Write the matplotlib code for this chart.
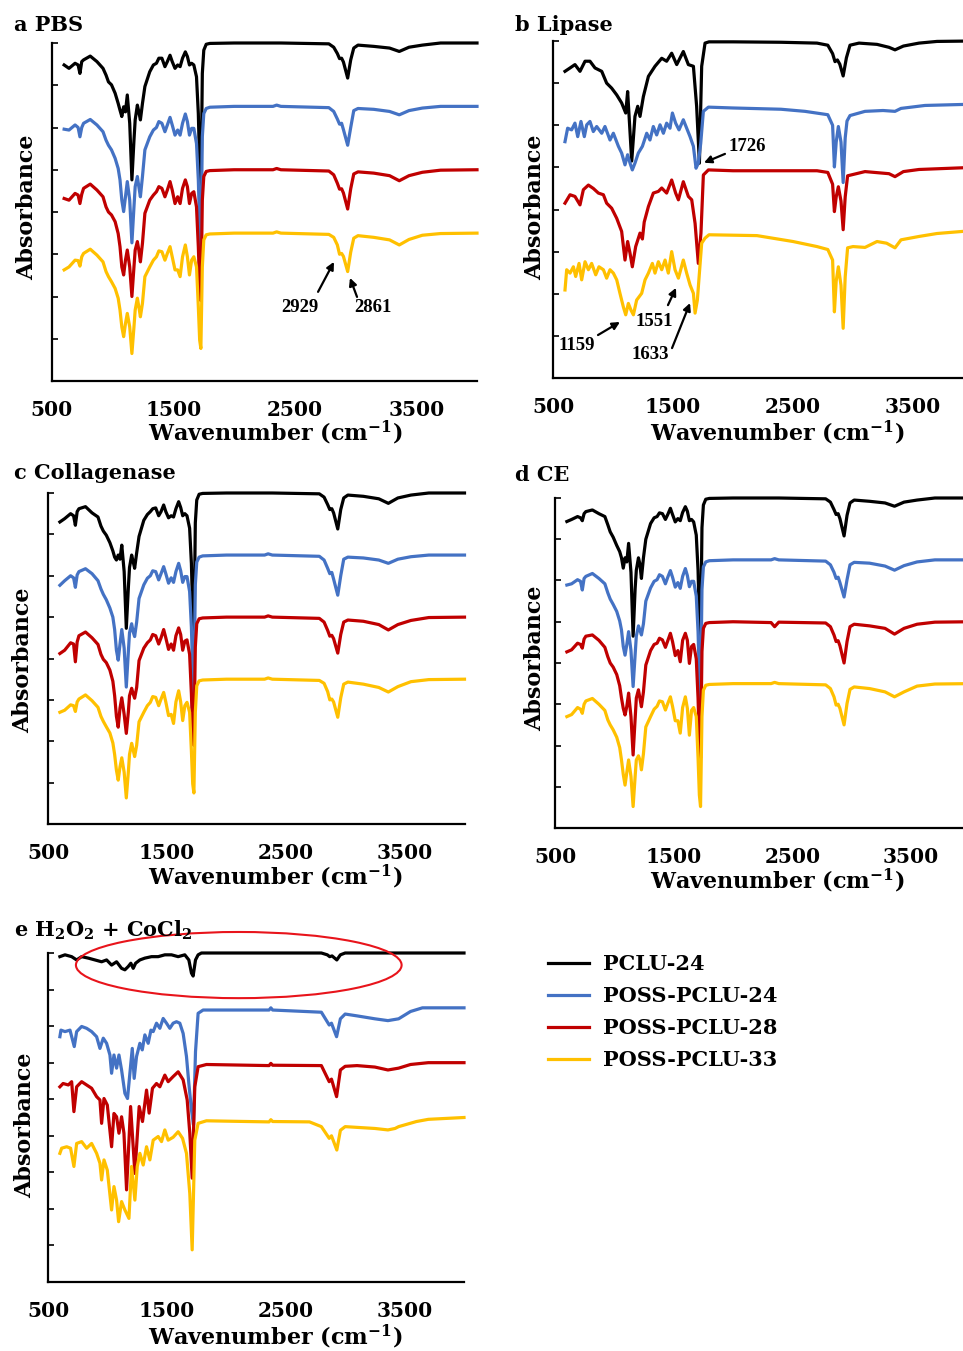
import matplotlib
matplotlib.use('Agg')
import matplotlib.pyplot as plt
from matplotlib.patches import Ellipse
import numpy as np

plt.rcParams['font.family'] = ['DejaVu Serif']
plt.rcParams['font.weight'] = 'bold'
plt.rcParams['mathtext.fontset'] = 'dejavuserif'

# ---------------- data ----------------
SERIES = ['PCLU-24', 'POSS-PCLU-24', 'POSS-PCLU-28', 'POSS-PCLU-33']
COLORS = ['#000000', '#4472C4', '#C00000', '#FFC000']
XTICKS = [500, 1500, 2500, 3500]
PANEL_TITLES = ['a PBS', 'b Lipase', 'c Collagenase', 'd CE',
                r'e H$_{\mathbf{2}}$O$_{\mathbf{2}}$ + CoCl$_{\mathbf{2}}$']

# wavenumber grid shared by panels a, c, d (cm-1)
WN_ACD = [600, 640, 690, 715, 730, 745, 760,
          815, 870, 920, 945, 965, 990,
          1020, 1045, 1060, 1075, 1090, 1105, 1120, 1140,
          1158, 1175, 1185, 1203, 1215, 1228, 1245, 1265,
          1305, 1335, 1360, 1380, 1405, 1430, 1450, 1472,
          1490, 1513, 1535, 1555, 1575, 1598, 1615, 1632,
          1650, 1668, 1690, 1705, 1716, 1726, 1738, 1750,
          1770, 1800, 2000, 2320, 2350, 2385,
          2780, 2820, 2850, 2868, 2885, 2900, 2935, 2960,
          2985, 3020, 3150, 3280, 3360, 3440, 3550, 3700, 4000]

# relative absorbance (0 = own baseline), panel a (PBS)
A_PCLU24 = [-0.52, -0.60, -0.48, -0.52, -0.72, -0.44, -0.40,
            -0.31, -0.44, -0.60, -0.76, -0.92, -0.99,
            -1.19, -1.43, -1.59, -1.74, -1.51, -1.63, -1.23, -1.90,
            -3.24, -2.30, -1.82, -1.47, -1.63, -1.82, -1.43, -1.03,
            -0.68, -0.52, -0.48, -0.36, -0.36, -0.56, -0.44, -0.29,
            -0.44, -0.60, -0.52, -0.56, -0.36, -0.21, -0.32, -0.52,
            -0.48, -0.52, -0.80, -1.67, -2.90, -3.70, -0.72, -0.17,
            -0.03, -0.01, 0.00, 0.00, 0.00, 0.00,
            -0.02, -0.10, -0.25, -0.37, -0.36, -0.45, -0.83, -0.40,
            -0.12, -0.05, -0.08, -0.12, -0.20, -0.10, -0.05, 0.00, 0.00]
A_POSS24 = [-0.54, -0.56, -0.44, -0.50, -0.72, -0.50, -0.40,
            -0.31, -0.44, -0.60, -0.80, -0.92, -1.03,
            -1.23, -1.47, -1.74, -2.22, -2.49, -2.14, -1.78, -2.22,
            -3.23, -2.38, -1.90, -1.66, -1.90, -2.14, -1.66, -1.03,
            -0.72, -0.56, -0.50, -0.36, -0.40, -0.60, -0.44, -0.26,
            -0.44, -0.68, -0.56, -0.68, -0.40, -0.18, -0.36, -0.68,
            -0.52, -0.52, -0.88, -1.74, -2.85, -3.40, -0.72, -0.17,
            -0.05, -0.02, 0.00, 0.00, 0.03, 0.00,
            -0.03, -0.12, -0.30, -0.42, -0.40, -0.55, -0.92, -0.50,
            -0.10, -0.05, -0.07, -0.12, -0.20, -0.10, -0.04, 0.00, 0.00]
A_POSS28 = [-0.68, -0.72, -0.56, -0.60, -0.80, -0.58, -0.44,
            -0.34, -0.48, -0.64, -0.88, -1.00, -1.07,
            -1.23, -1.51, -1.82, -2.30, -2.49, -2.14, -1.90, -2.30,
            -3.00, -2.30, -1.90, -1.70, -1.90, -2.18, -1.74, -1.03,
            -0.72, -0.60, -0.52, -0.40, -0.44, -0.64, -0.48, -0.28,
            -0.48, -0.80, -0.64, -0.80, -0.44, -0.24, -0.40, -0.80,
            -0.56, -0.52, -0.88, -1.82, -2.77, -3.10, -0.72, -0.16,
            -0.04, -0.02, 0.00, 0.00, 0.03, 0.00,
            -0.03, -0.12, -0.32, -0.46, -0.45, -0.55, -0.93, -0.45,
            -0.10, -0.05, -0.08, -0.14, -0.26, -0.14, -0.06, -0.01, 0.00]
A_POSS33 = [-0.87, -0.80, -0.64, -0.65, -0.78, -0.56, -0.48,
            -0.38, -0.52, -0.68, -0.91, -1.03, -1.15,
            -1.31, -1.54, -1.82, -2.22, -2.45, -2.14, -1.90, -2.22,
            -2.85, -2.22, -1.82, -1.54, -1.74, -1.98, -1.66, -1.03,
            -0.80, -0.64, -0.56, -0.42, -0.44, -0.64, -0.48, -0.32,
            -0.56, -0.87, -0.87, -1.03, -0.56, -0.28, -0.56, -0.99,
            -0.64, -0.56, -0.80, -1.74, -2.53, -2.73, -0.80, -0.16,
            -0.04, -0.02, 0.00, 0.00, 0.03, 0.00,
            -0.03, -0.10, -0.28, -0.50, -0.48, -0.55, -0.91, -0.45,
            -0.12, -0.06, -0.10, -0.16, -0.28, -0.15, -0.05, -0.01, 0.00]

# panel c (Collagenase)
C_PCLU24 = [-0.70, -0.62, -0.50, -0.55, -0.78, -0.45, -0.38,
            -0.33, -0.48, -0.58, -0.80, -0.92, -1.02,
            -1.20, -1.40, -1.55, -1.62, -1.50, -1.60, -1.26, -1.90,
            -3.27, -2.30, -1.80, -1.50, -1.65, -1.82, -1.45, -1.05,
            -0.66, -0.52, -0.45, -0.38, -0.36, -0.55, -0.45, -0.29,
            -0.45, -0.60, -0.55, -0.58, -0.38, -0.21, -0.35, -0.55,
            -0.50, -0.55, -0.85, -1.70, -2.90, -3.70, -0.72, -0.17,
            -0.03, -0.01, 0.00, 0.00, 0.00, 0.00,
            -0.02, -0.10, -0.28, -0.40, -0.38, -0.48, -0.87, -0.40,
            -0.12, -0.05, -0.08, -0.14, -0.25, -0.12, -0.05, 0.00, 0.00]
C_POSS24 = [-0.73, -0.62, -0.50, -0.55, -0.78, -0.48, -0.40,
            -0.33, -0.45, -0.62, -0.82, -0.95, -1.08,
            -1.28, -1.50, -1.80, -2.30, -2.54, -2.15, -1.80, -2.25,
            -3.19, -2.35, -1.88, -1.66, -1.85, -1.97, -1.62, -1.05,
            -0.72, -0.56, -0.50, -0.38, -0.40, -0.60, -0.45, -0.28,
            -0.45, -0.68, -0.55, -0.66, -0.40, -0.20, -0.38, -0.66,
            -0.52, -0.52, -0.88, -1.74, -2.85, -3.40, -0.72, -0.17,
            -0.05, -0.02, 0.00, 0.00, 0.03, 0.00,
            -0.03, -0.12, -0.32, -0.45, -0.42, -0.58, -0.97, -0.50,
            -0.10, -0.05, -0.07, -0.12, -0.20, -0.10, -0.04, 0.00, 0.00]
C_POSS28 = [-0.88, -0.80, -0.62, -0.65, -1.08, -0.60, -0.45,
            -0.36, -0.50, -0.66, -0.90, -1.02, -1.10,
            -1.28, -1.55, -1.90, -2.40, -2.66, -2.20, -1.95, -2.35,
            -2.81, -2.30, -1.90, -1.72, -1.85, -1.96, -1.70, -1.05,
            -0.75, -0.62, -0.55, -0.42, -0.45, -0.65, -0.50, -0.30,
            -0.50, -0.78, -0.65, -0.80, -0.45, -0.26, -0.42, -0.80,
            -0.58, -0.55, -0.90, -1.85, -2.80, -3.10, -0.72, -0.16,
            -0.04, -0.02, 0.00, 0.00, 0.03, 0.00,
            -0.03, -0.12, -0.32, -0.46, -0.44, -0.52, -0.87, -0.42,
            -0.12, -0.07, -0.10, -0.18, -0.31, -0.18, -0.08, -0.01, 0.00]
C_POSS33 = [-0.80, -0.75, -0.62, -0.64, -0.78, -0.55, -0.48,
            -0.38, -0.52, -0.68, -0.90, -1.02, -1.15,
            -1.30, -1.54, -1.82, -2.20, -2.44, -2.12, -1.90, -2.25,
            -2.87, -2.25, -1.82, -1.55, -1.70, -1.87, -1.60, -1.03,
            -0.80, -0.64, -0.56, -0.42, -0.44, -0.64, -0.48, -0.32,
            -0.55, -0.88, -0.85, -1.07, -0.55, -0.28, -0.55, -1.00,
            -0.64, -0.56, -0.80, -1.74, -2.53, -2.75, -0.80, -0.16,
            -0.04, -0.02, 0.00, 0.00, 0.03, 0.00,
            -0.03, -0.10, -0.30, -0.50, -0.48, -0.55, -0.92, -0.45,
            -0.12, -0.07, -0.12, -0.20, -0.31, -0.18, -0.06, -0.01, 0.00]

# panel d (CE)
D_PCLU24 = [-0.57, -0.52, -0.45, -0.48, -0.55, -0.38, -0.33,
            -0.29, -0.38, -0.45, -0.65, -0.82, -0.95,
            -1.15, -1.30, -1.45, -1.70, -1.45, -1.55, -1.10, -1.80,
            -3.35, -2.20, -1.75, -1.45, -1.60, -1.95, -1.45, -1.00,
            -0.62, -0.48, -0.45, -0.36, -0.38, -0.52, -0.40, -0.25,
            -0.40, -0.58, -0.50, -0.55, -0.35, -0.21, -0.32, -0.55,
            -0.52, -0.58, -0.90, -1.75, -2.95, -3.70, -0.72, -0.17,
            -0.03, -0.01, 0.00, 0.00, 0.00, 0.00,
            -0.02, -0.10, -0.28, -0.40, -0.38, -0.50, -0.92, -0.42,
            -0.12, -0.05, -0.08, -0.12, -0.20, -0.10, -0.05, 0.00, 0.00]
D_POSS24 = [-0.61, -0.58, -0.48, -0.52, -0.73, -0.45, -0.40,
            -0.33, -0.45, -0.58, -0.80, -0.95, -1.08,
            -1.25, -1.48, -1.70, -2.10, -2.31, -2.05, -1.74, -2.20,
            -3.07, -2.30, -1.85, -1.60, -1.70, -1.82, -1.55, -1.00,
            -0.68, -0.52, -0.48, -0.36, -0.40, -0.58, -0.42, -0.26,
            -0.42, -0.66, -0.55, -0.69, -0.40, -0.21, -0.38, -0.65,
            -0.52, -0.52, -0.88, -1.74, -2.85, -3.40, -0.72, -0.17,
            -0.05, -0.02, 0.00, 0.00, 0.03, 0.00,
            -0.03, -0.12, -0.30, -0.45, -0.42, -0.55, -0.90, -0.48,
            -0.12, -0.06, -0.08, -0.15, -0.25, -0.14, -0.05, 0.00, 0.00]
D_POSS28 = [-0.73, -0.68, -0.52, -0.55, -0.64, -0.42, -0.35,
            -0.32, -0.45, -0.62, -0.85, -1.00, -1.10,
            -1.28, -1.55, -1.85, -2.10, -2.26, -2.05, -1.73, -2.30,
            -3.23, -2.35, -1.85, -1.65, -1.85, -2.06, -1.70, -1.05,
            -0.70, -0.55, -0.52, -0.40, -0.44, -0.62, -0.46, -0.28,
            -0.48, -0.82, -0.70, -0.97, -0.45, -0.28, -0.45, -1.01,
            -0.60, -0.55, -0.90, -1.85, -2.90, -3.30, -0.72, -0.16,
            -0.04, -0.02, 0.00, -0.02, -0.12, -0.01,
            -0.03, -0.12, -0.32, -0.48, -0.46, -0.58, -1.00, -0.48,
            -0.12, -0.06, -0.10, -0.16, -0.30, -0.16, -0.06, -0.01, 0.00]
D_POSS33 = [-0.80, -0.75, -0.58, -0.62, -0.72, -0.50, -0.42,
            -0.36, -0.50, -0.65, -0.88, -1.00, -1.12,
            -1.30, -1.55, -1.85, -2.20, -2.46, -2.15, -1.85, -2.25,
            -2.98, -2.25, -1.85, -1.75, -1.85, -2.09, -1.70, -1.05,
            -0.80, -0.62, -0.55, -0.42, -0.44, -0.64, -0.48, -0.32,
            -0.55, -0.90, -0.90, -1.20, -0.58, -0.32, -0.60, -1.25,
            -0.65, -0.58, -0.80, -1.80, -2.70, -2.98, -0.80, -0.16,
            -0.04, -0.02, 0.00, 0.00, 0.03, 0.00,
            -0.03, -0.12, -0.32, -0.52, -0.50, -0.60, -1.00, -0.48,
            -0.14, -0.08, -0.12, -0.20, -0.32, -0.20, -0.06, -0.01, 0.00]

# panel b (Lipase): each spectrum on its own wavenumber points
B_PCLU24_WN = [600, 642, 683, 725, 767, 808, 850, 906,
               947, 989, 1031, 1072, 1106, 1122, 1156, 1183,
               1206, 1225, 1253, 1295, 1350, 1406, 1447, 1489,
               1531, 1586, 1628, 1670, 1697, 1720, 1739, 1767,
               1800, 2000, 2400, 2700, 2790, 2830, 2850, 2870,
               2890, 2918, 2945, 2975, 3050, 3200, 3300, 3350,
               3420, 3550, 3700, 4000]
B_PCLU24 = [-0.72, -0.64, -0.56, -0.72, -0.48, -0.48, -0.64, -0.72,
            -1.00, -1.12, -1.28, -1.47, -1.71, -1.20, -2.85, -1.79,
            -1.55, -1.79, -1.32, -0.84, -0.60, -0.41, -0.48, -0.29,
            -0.56, -0.25, -0.56, -0.60, -1.55, -2.90, -0.60, -0.05,
            -0.02, -0.02, -0.03, -0.05, -0.10, -0.30, -0.49, -0.45,
            -0.55, -0.83, -0.40, -0.10, -0.05, -0.08, -0.15, -0.21,
            -0.12, -0.05, -0.01, 0.00]
B_POSS24_WN = [600, 622, 655, 683, 706, 733, 761, 781,
               808, 836, 864, 906, 933, 975, 1003, 1045,
               1072, 1100, 1122, 1142, 1161, 1183, 1211, 1245,
               1281, 1308, 1336, 1364, 1392, 1420, 1447, 1475,
               1495, 1522, 1550, 1586, 1614, 1642, 1670, 1692,
               1711, 1731, 1753, 1795, 2000, 2400, 2600, 2790,
               2830, 2845, 2860, 2878, 2900, 2918, 2935, 2950,
               2975, 3100, 3250, 3350, 3400, 3600, 4000]
B_POSS24 = [-0.89, -0.57, -0.61, -0.45, -0.77, -0.41, -0.77, -0.49,
            -0.41, -0.65, -0.53, -0.69, -0.53, -0.85, -0.69, -1.00,
            -1.16, -1.44, -1.20, -1.40, -1.56, -1.40, -1.16, -1.00,
            -0.69, -0.85, -0.53, -0.73, -0.49, -0.69, -0.45, -0.57,
            -0.21, -0.45, -0.61, -0.37, -0.57, -0.77, -1.00, -1.52,
            -1.40, -0.93, -0.17, -0.07, -0.09, -0.12, -0.17, -0.25,
            -0.50, -1.49, -0.90, -0.53, -0.90, -1.86, -0.80, -0.40,
            -0.27, -0.17, -0.15, -0.17, -0.10, -0.03, 0.00]
B_POSS28_WN = [600, 642, 683, 725, 753, 795, 836, 878,
               920, 947, 989, 1031, 1072, 1100, 1122, 1142,
               1161, 1189, 1225, 1245, 1260, 1295, 1336, 1378,
               1406, 1447, 1489, 1522, 1545, 1586, 1628, 1656,
               1684, 1711, 1733, 1753, 1795, 2000, 2700, 2790,
               2830, 2845, 2860, 2878, 2900, 2918, 2935, 2955,
               3100, 3300, 3350, 3420, 3550, 4000]
B_POSS28 = [-0.85, -0.65, -0.69, -0.89, -0.53, -0.42, -0.50, -0.61,
            -0.65, -0.85, -0.97, -1.21, -1.52, -2.20, -1.76, -2.04,
            -2.36, -1.88, -1.56, -1.70, -1.30, -0.93, -0.61, -0.57,
            -0.49, -0.61, -0.30, -0.61, -0.77, -0.34, -0.69, -0.77,
            -1.33, -2.28, -1.56, -0.18, -0.06, -0.08, -0.08, -0.12,
            -0.40, -1.05, -0.70, -0.46, -0.80, -1.48, -0.70, -0.20,
            -0.10, -0.15, -0.22, -0.10, -0.05, 0.00]
B_POSS33_WN = [600, 614, 642, 670, 689, 717, 739, 767,
               795, 822, 856, 883, 920, 947, 975, 1003,
               1031, 1058, 1086, 1106, 1128, 1150, 1170, 1197,
               1239, 1267, 1295, 1328, 1350, 1378, 1406, 1434,
               1461, 1489, 1517, 1545, 1586, 1614, 1642, 1670,
               1684, 1703, 1720, 1739, 1767, 1800, 2200, 2500,
               2700, 2790, 2830, 2845, 2860, 2878, 2900, 2918,
               2935, 2955, 3000, 3100, 3200, 3280, 3350, 3400,
               3550, 3700, 4000]
B_POSS33 = [-1.41, -0.93, -1.01, -0.86, -1.09, -0.78, -1.17, -0.74,
            -0.93, -0.78, -1.05, -0.86, -0.93, -1.13, -0.93, -1.01,
            -1.17, -1.49, -1.81, -2.00, -1.73, -1.89, -2.00, -1.65,
            -1.49, -1.17, -1.01, -0.78, -1.01, -0.74, -0.93, -0.70,
            -1.01, -0.50, -0.93, -1.13, -0.70, -1.01, -1.29, -1.49,
            -1.96, -1.65, -1.01, -0.30, -0.18, -0.10, -0.12, -0.26,
            -0.38, -0.45, -0.70, -1.93, -1.20, -0.86, -1.30, -2.32,
            -1.10, -0.41, -0.38, -0.40, -0.26, -0.30, -0.41, -0.22,
            -0.14, -0.07, 0.00]

# panel e (H2O2 + CoCl2)
E_PCLU24_WN = [600, 643, 699, 741, 783, 839, 895, 951,
               993, 1035, 1077, 1119, 1147, 1175, 1197, 1217,
               1237, 1273, 1315, 1371, 1427, 1483, 1539, 1595,
               1651, 1685, 1707, 1721, 1741, 1763, 1791, 2800,
               2850, 2870, 2890, 2930, 2960, 3000, 4000]
E_PCLU24 = [-0.10, -0.05, -0.10, -0.19, -0.10, -0.14, -0.19, -0.24,
            -0.19, -0.33, -0.24, -0.42, -0.46, -0.37, -0.28, -0.42,
            -0.28, -0.19, -0.14, -0.10, -0.10, -0.05, -0.05, -0.10,
            -0.05, -0.19, -0.55, -0.63, -0.19, -0.05, 0.00, 0.00,
            -0.05, -0.10, -0.08, -0.19, -0.05, 0.00, 0.00]
E_POSS24_WN = [600, 609, 643, 685, 721, 741, 783, 825,
               867, 909, 937, 965, 993, 1021, 1035, 1055,
               1077, 1097, 1119, 1147, 1169, 1189, 1209, 1225,
               1245, 1273, 1293, 1315, 1343, 1366, 1385, 1413,
               1441, 1469, 1497, 1525, 1553, 1581, 1609, 1637,
               1665, 1685, 1707, 1724, 1741, 1763, 1805, 2360,
               2375, 2390, 2800, 2866, 2885, 2928, 2960, 3000,
               3100, 3250, 3360, 3450, 3550, 3650, 4000]
E_POSS24 = [-0.79, -0.61, -0.65, -0.61, -1.06, -0.65, -0.51, -0.56,
            -0.65, -0.79, -1.11, -0.83, -0.97, -1.29, -1.79, -1.29,
            -1.65, -1.29, -1.70, -2.34, -2.48, -1.79, -1.11, -1.93,
            -1.33, -0.97, -1.15, -0.74, -0.97, -0.61, -0.65, -0.42,
            -0.56, -0.29, -0.42, -0.56, -0.42, -0.38, -0.42, -0.70,
            -1.33, -2.07, -2.79, -3.20, -1.20, -0.15, -0.06, -0.06,
            0.00, -0.06, -0.12, -0.47, -0.42, -0.79, -0.30, -0.17,
            -0.22, -0.30, -0.35, -0.30, -0.10, 0.00, 0.00]
E_POSS28_WN = [600, 627, 671, 699, 718, 741, 783, 825,
               867, 909, 937, 951, 971, 999, 1035, 1055,
               1077, 1097, 1119, 1139, 1161, 1195, 1231, 1267,
               1295, 1329, 1351, 1379, 1413, 1441, 1483, 1511,
               1553, 1595, 1637, 1671, 1693, 1713, 1735, 1763,
               1833, 2360, 2375, 2390, 2800, 2866, 2885, 2928,
               2960, 3000, 3100, 3250, 3360, 3450, 3550, 3700,
               4000]
E_POSS28 = [-0.66, -0.57, -0.61, -0.52, -1.34, -0.66, -0.52, -0.61,
            -0.70, -0.93, -1.02, -1.66, -0.98, -1.16, -2.30, -1.39,
            -1.48, -1.93, -1.48, -1.93, -3.48, -1.20, -3.03, -1.20,
            -1.61, -0.75, -1.38, -0.70, -0.57, -0.66, -0.34, -0.52,
            -0.38, -0.25, -0.47, -1.02, -1.93, -3.16, -0.66, -0.11,
            -0.05, -0.08, -0.02, -0.07, -0.08, -0.52, -0.45, -0.93,
            -0.20, -0.10, -0.08, -0.12, -0.20, -0.15, -0.05, 0.00,
            0.00]
E_POSS33_WN = [600, 615, 657, 690, 718, 741, 783, 825,
               867, 909, 937, 951, 971, 999, 1035, 1055,
               1077, 1094, 1119, 1147, 1181, 1203, 1231, 1251,
               1273, 1301, 1329, 1357, 1385, 1427, 1455, 1483,
               1511, 1553, 1595, 1632, 1665, 1693, 1713, 1735,
               1763, 1833, 2000, 2360, 2375, 2390, 2700, 2800,
               2866, 2885, 2930, 2960, 3000, 3100, 3250, 3360,
               3420, 3450, 3600, 3700, 4000]
E_POSS33 = [-0.98, -0.84, -0.80, -0.84, -1.34, -0.71, -0.66, -0.84,
            -0.71, -0.98, -1.25, -1.71, -1.16, -1.44, -2.53, -1.89,
            -2.26, -2.85, -2.30, -2.53, -2.76, -1.34, -2.26, -1.34,
            -0.98, -1.30, -0.80, -1.16, -0.62, -0.52, -0.66, -0.34,
            -0.62, -0.54, -0.39, -0.57, -0.98, -2.08, -3.62, -0.62,
            -0.16, -0.09, -0.10, -0.12, -0.06, -0.11, -0.12, -0.25,
            -0.57, -0.50, -0.89, -0.35, -0.25, -0.27, -0.30, -0.34,
            -0.30, -0.25, -0.11, -0.05, 0.00]

# ---------------- layout ----------------
W, H = 963, 1351
fig = plt.figure(figsize=(W / 100, H / 100), dpi=100)

STACK_8 = [8.0, 6.5, 5.0, 3.5]
STACK_9 = [9.0, 7.5, 6.0, 4.5]

# pixel boxes: left, top, bottom, width ; label centres ; title position
PANELS = [
    dict(box=(52, 43, 381, 425), ymax=8, stack=STACK_8, xl=(275, 433), yl=(27, 207), title=(14, 25), pad=13.5),
    dict(box=(553, 41, 378, 420), ymax=8, stack=STACK_8, xl=(777, 433), yl=(535, 207), title=(515, 25), pad=13.5),
    dict(box=(48, 493, 824, 416.5), ymax=8, stack=STACK_8, xl=(275, 877), yl=(23, 660), title=(14, 473), pad=13.5),
    dict(box=(555, 498, 828, 415.5), ymax=8, stack=STACK_8, xl=(777, 881), yl=(535, 658), title=(515, 475), pad=13.5),
    dict(box=(48, 953, 1282, 416), ymax=9, stack=STACK_9, xl=(275, 1337), yl=(25, 1125), title=(14, 930), pad=13.5),
]

SPECTRA = [
    [(WN_ACD, A_PCLU24), (WN_ACD, A_POSS24), (WN_ACD, A_POSS28), (WN_ACD, A_POSS33)],
    [(B_PCLU24_WN, B_PCLU24), (B_POSS24_WN, B_POSS24), (B_POSS28_WN, B_POSS28), (B_POSS33_WN, B_POSS33)],
    [(WN_ACD, C_PCLU24), (WN_ACD, C_POSS24), (WN_ACD, C_POSS28), (WN_ACD, C_POSS33)],
    [(WN_ACD, D_PCLU24), (WN_ACD, D_POSS24), (WN_ACD, D_POSS28), (WN_ACD, D_POSS33)],
    [(E_PCLU24_WN, E_PCLU24), (E_POSS24_WN, E_POSS24), (E_POSS28_WN, E_POSS28), (E_POSS33_WN, E_POSS33)],
]

axes = []
handles = []
for p, spec, title in zip(PANELS, SPECTRA, PANEL_TITLES):
    L, T, B, Wd = p['box']
    ax = fig.add_axes([L / W, 1 - B / H, Wd / W, (B - T) / H])
    axes.append(ax)
    hs = []
    for (wn, vals), off, col, lab in zip(spec, p['stack'], COLORS, SERIES):
        h, = ax.plot(wn, np.asarray(vals) + off, color=col, lw=2.3,
                     solid_joinstyle='round', label=lab, clip_on=False)
        hs.append(h)
    handles = hs
    ax.set_xlim(500, 4000)
    ax.set_ylim(0, p['ymax'])
    ax.set_xticks(XTICKS)
    ax.set_yticks(range(0, p['ymax'] + 1))
    ax.set_yticklabels([])
    for s in ['top', 'right']:
        ax.spines[s].set_visible(False)
    for s in ['left', 'bottom']:
        ax.spines[s].set_linewidth(1.6)
    ax.tick_params(axis='x', length=0, pad=p['pad'], labelsize=14.5)
    ax.tick_params(axis='y', direction='in', length=4, width=1.2)
    ax.set_xlabel(r'Wavenumber (cm$^{\mathbf{-1}}$)', fontsize=16, fontweight='bold')
    ax.set_ylabel('Absorbance', fontsize=16, fontweight='bold')
    ax.xaxis.label.set_va('center')
    ax.yaxis.label.set_va('center')
    ax.xaxis.set_label_coords((p['xl'][0] - L) / Wd, (B - p['xl'][1]) / (B - T))
    ax.yaxis.set_label_coords((p['yl'][0] - L) / Wd, (B - p['yl'][1]) / (B - T))
    fig.text(p['title'][0] / W, 1 - p['title'][1] / H, title, fontsize=15,
             fontweight='bold', ha='left', va='center')

# annotations
afont = dict(family='Liberation Serif', weight='bold', size=13.5)
arrow = dict(arrowstyle='-|>', color='black', lw=1.6, mutation_scale=11,
             shrinkA=0, shrinkB=0)
axA, axB, axC, axD, axE = axes
axA.text(2542, 1.73, '2929', fontdict=afont, ha='center', va='center')
axA.annotate('', xy=(2822, 2.82), xytext=(2691, 2.11), arrowprops=arrow)
axA.text(3144, 1.73, '2861', fontdict=afont, ha='center', va='center')
axA.annotate('', xy=(2954, 2.44), xytext=(3012, 1.99), arrowprops=arrow)

axB.text(2117, 5.49, '1726', fontdict=afont, ha='center', va='center')
axB.annotate('', xy=(1758, 5.11), xytext=(1933, 5.32), arrowprops=arrow)
axB.text(700, 0.78, '1159', fontdict=afont, ha='center', va='center')
axB.annotate('', xy=(1058, 1.33), xytext=(875, 1.02), arrowprops=arrow)
axB.text(1342, 1.33, '1551', fontdict=afont, ha='center', va='center')
axB.annotate('', xy=(1525, 2.14), xytext=(1458, 1.73), arrowprops=arrow)
axB.text(1308, 0.55, '1633', fontdict=afont, ha='center', va='center')
axB.annotate('', xy=(1642, 1.78), xytext=(1492, 0.71), arrowprops=arrow)

# highlight ellipse in panel e
axE.add_patch(Ellipse((2105, 8.67), 2740, 1.81, fill=False, edgecolor='#E8141B',
                      lw=1.5, clip_on=False, zorder=5))

# legend
fig.legend(handles=handles, labels=SERIES, loc='upper left',
           bbox_to_anchor=(548 / W, 1 - 954 / H), frameon=False, fontsize=15,
           handlelength=1.95, handletextpad=0.7, labelspacing=0.58,
           borderpad=0, borderaxespad=0)

fig.savefig('out.png', dpi=100)
